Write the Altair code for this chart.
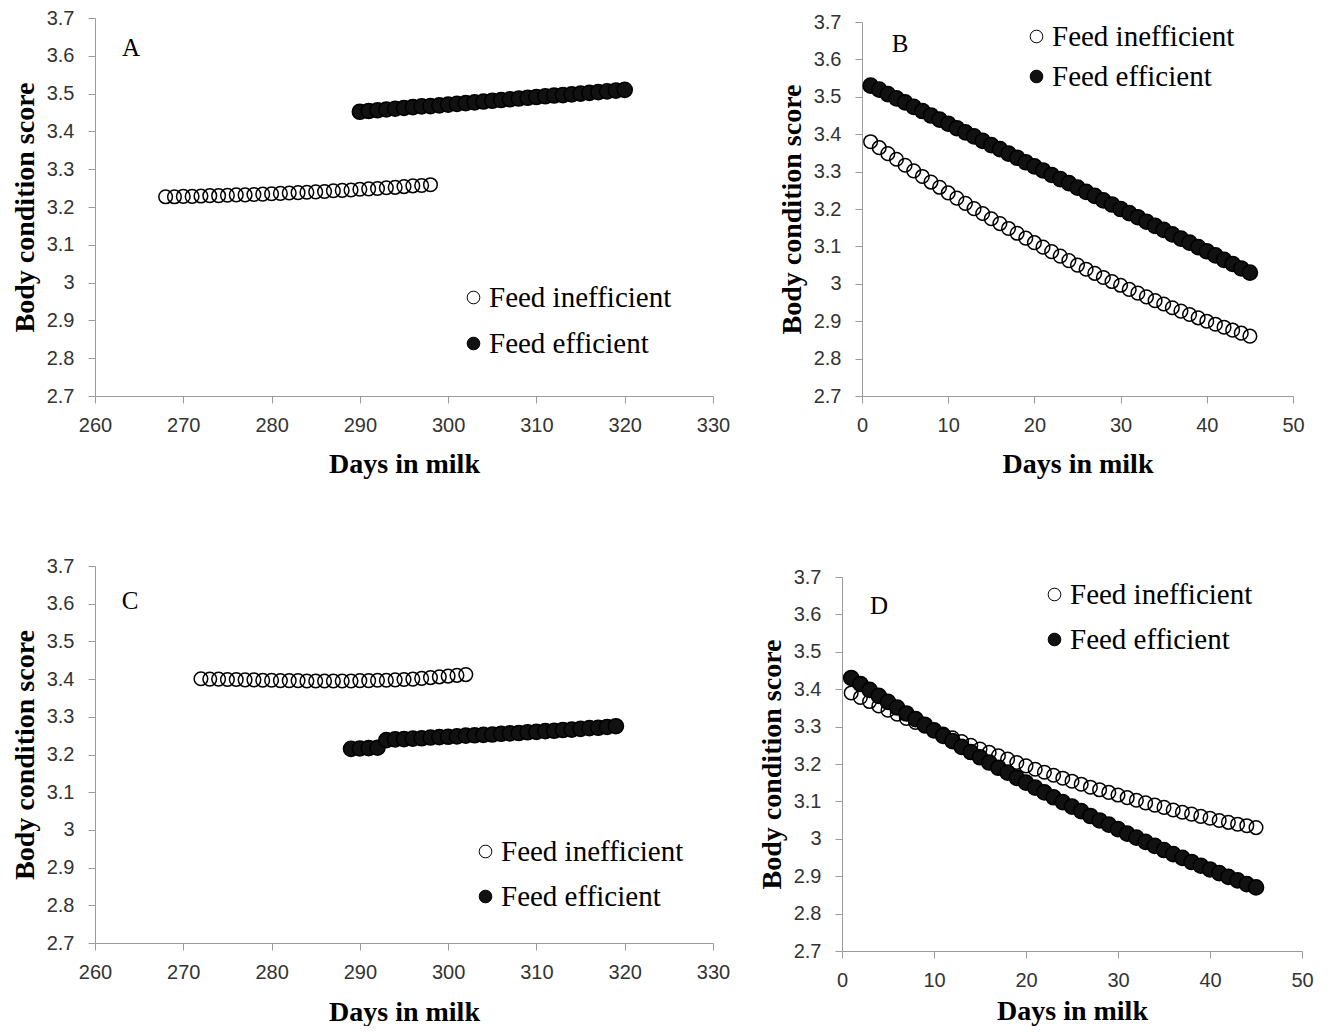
import altair as alt
import pandas as pd

# ---------------- data ----------------
GROUPS = ["Feed inefficient", "Feed efficient"]

# Panel A
a_days_ineff = list(range(268, 299))
a_bcs_ineff = [3.227, 3.227, 3.228, 3.228, 3.229, 3.230, 3.230, 3.231, 3.232, 3.232,
               3.233, 3.234, 3.235, 3.236, 3.237, 3.238, 3.239, 3.240, 3.241, 3.243,
               3.244, 3.245, 3.247, 3.248, 3.249, 3.251, 3.252, 3.254, 3.256, 3.257, 3.259]
a_days_eff = list(range(290, 321))
a_bcs_eff = [3.452, 3.454, 3.456, 3.458, 3.460, 3.462, 3.464, 3.466, 3.467, 3.469,
             3.471, 3.473, 3.475, 3.477, 3.479, 3.481, 3.483, 3.485, 3.487, 3.489,
             3.491, 3.493, 3.495, 3.496, 3.498, 3.500, 3.502, 3.504, 3.506, 3.508, 3.510]

# Panel B
b_days_ineff = list(range(1, 46))
b_bcs_ineff = [3.380, 3.364, 3.348, 3.333, 3.317, 3.302, 3.287, 3.272, 3.258, 3.243,
               3.229, 3.215, 3.201, 3.188, 3.174, 3.161, 3.148, 3.135, 3.122, 3.110,
               3.098, 3.086, 3.074, 3.062, 3.050, 3.039, 3.028, 3.017, 3.006, 2.996,
               2.985, 2.975, 2.965, 2.955, 2.946, 2.936, 2.927, 2.918, 2.909, 2.900,
               2.892, 2.884, 2.876, 2.868, 2.860]
b_days_eff = list(range(1, 46))
b_bcs_eff = [3.530, 3.519, 3.507, 3.496, 3.485, 3.473, 3.462, 3.450, 3.439, 3.428,
             3.416, 3.405, 3.394, 3.382, 3.371, 3.360, 3.348, 3.337, 3.325, 3.314,
             3.303, 3.291, 3.280, 3.269, 3.257, 3.246, 3.235, 3.223, 3.212, 3.200,
             3.189, 3.178, 3.166, 3.155, 3.144, 3.132, 3.121, 3.110, 3.098, 3.087,
             3.076, 3.064, 3.053, 3.041, 3.030]

# Panel C
c_days_ineff = list(range(272, 303))
c_bcs_ineff = [3.401, 3.400, 3.400, 3.399, 3.399, 3.398, 3.398, 3.397, 3.397, 3.396,
               3.396, 3.396, 3.395, 3.395, 3.395, 3.395, 3.395, 3.395, 3.396, 3.396,
               3.397, 3.397, 3.398, 3.399, 3.400, 3.402, 3.404, 3.406, 3.408, 3.410, 3.412]
c_days_eff = list(range(289, 320))
c_bcs_eff = [3.215, 3.216, 3.217, 3.218, 3.238, 3.240, 3.241, 3.242, 3.243, 3.245,
             3.246, 3.247, 3.248, 3.250, 3.251, 3.252, 3.253, 3.255, 3.256, 3.257,
             3.259, 3.260, 3.262, 3.263, 3.265, 3.266, 3.268, 3.270, 3.271, 3.273, 3.275]

# Panel D
d_days_ineff = list(range(1, 46))
d_bcs_ineff = [3.390, 3.378, 3.367, 3.355, 3.344, 3.333, 3.322, 3.311, 3.301, 3.290,
               3.280, 3.270, 3.260, 3.250, 3.240, 3.231, 3.222, 3.213, 3.204, 3.195,
               3.186, 3.178, 3.170, 3.162, 3.154, 3.146, 3.138, 3.131, 3.124, 3.117,
               3.110, 3.103, 3.096, 3.090, 3.084, 3.077, 3.071, 3.066, 3.060, 3.055,
               3.049, 3.044, 3.039, 3.035, 3.030]
d_days_eff = list(range(1, 46))
d_bcs_eff = [3.430, 3.414, 3.398, 3.382, 3.366, 3.351, 3.335, 3.320, 3.305, 3.290,
             3.275, 3.261, 3.246, 3.232, 3.218, 3.204, 3.190, 3.177, 3.163, 3.150,
             3.137, 3.124, 3.111, 3.098, 3.086, 3.074, 3.061, 3.049, 3.038, 3.026,
             3.014, 3.003, 2.992, 2.981, 2.970, 2.959, 2.949, 2.938, 2.928, 2.918,
             2.908, 2.898, 2.889, 2.879, 2.870]

late_ticks = [260, 270, 280, 290, 300, 310, 320, 330]
early_ticks = [0, 10, 20, 30, 40, 50]
y_ticks = [2.7, 2.8, 2.9, 3.0, 3.1, 3.2, 3.3, 3.4, 3.5, 3.6, 3.7]

SERIF = "Liberation Serif"
SANS = "Liberation Sans Narrow, Arial Narrow, Liberation Sans, sans-serif"


def frame(di, vi, de, ve):
    rows = [{"day": d, "bcs": v, "group": GROUPS[0]} for d, v in zip(di, vi)]
    rows += [{"day": d, "bcs": v, "group": GROUPS[1]} for d, v in zip(de, ve)]
    return pd.DataFrame(rows)


def panel(df, xdom, xticks, width, height, xrange, yrange, yoffset, xtitlepad,
          lx, ly, rowpad, letter, letx, lety):
    if xrange is not None:
        xscale = alt.Scale(domain=xdom, nice=False, zero=False, range=xrange)
    else:
        xscale = alt.Scale(domain=xdom, nice=False, zero=False)
    if yrange is not None:
        yscale = alt.Scale(domain=[2.7, 3.7], nice=False, zero=False, range=yrange)
    else:
        yscale = alt.Scale(domain=[2.7, 3.7], nice=False, zero=False)

    enc = dict(
        x=alt.X("day:Q", scale=xscale,
                axis=alt.Axis(values=xticks, title="Days in milk",
                              titlePadding=xtitlepad, labelFlush=False)),
        y=alt.Y("bcs:Q", scale=yscale,
                axis=alt.Axis(values=y_ticks, title="Body condition score",
                              offset=yoffset, labelFlush=False,
                              labelExpr="format(datum.value, '.1~f')")),
        fill=alt.Fill("group:N",
                      scale=alt.Scale(domain=GROUPS, range=["transparent", "#111111"]),
                      legend=alt.Legend(title=None, orient="none", legendX=lx, legendY=ly,
                                        labelFont=SERIF, labelFontSize=29, labelColor="black",
                                        labelLimit=0,
                                        symbolType="circle", symbolSize=160,
                                        symbolStrokeColor="black", symbolStrokeWidth=1,
                                        symbolOpacity=1, rowPadding=rowpad,
                                        labelOffset=1, padding=0)),
    )

    base = alt.Chart(df)
    open_pts = base.transform_filter(alt.datum.group == GROUPS[0]).mark_point(
        shape="circle", filled=True, stroke="black", strokeWidth=1.5, opacity=1, size=185
    ).encode(**enc)
    fill_pts = base.transform_filter(alt.datum.group == GROUPS[1]).mark_point(
        shape="circle", filled=True, stroke="black", strokeWidth=1.5, opacity=1, size=230
    ).encode(**enc)

    lab = alt.Chart(pd.DataFrame({"t": [letter]})).mark_text(
        font=SERIF, fontSize=25, color="black", align="center", baseline="middle"
    ).encode(x=alt.value(letx), y=alt.value(lety), text="t:N")

    return alt.layer(open_pts, fill_pts, lab).properties(width=width, height=height)


pA = panel(frame(a_days_ineff, a_bcs_ineff, a_days_eff, a_bcs_eff),
           [260, 330], late_ticks, 618, 378, None, None, 0, 15,
           364, 265, 16, "A", 36, 30)
pB = panel(frame(b_days_ineff, b_bcs_ineff, b_days_eff, b_bcs_eff),
           [0, 50], early_ticks, 451, 378, [20, 451], [378, 4], -20, 15,
           180, 4, 10, "B", 58, 26)
pC = panel(frame(c_days_ineff, c_bcs_ineff, c_days_eff, c_bcs_eff),
           [260, 330], late_ticks, 618, 377, None, None, 0, 16,
           376, 271, 15, "C", 35, 35)
pD = panel(frame(d_days_ineff, d_bcs_ineff, d_days_eff, d_bcs_eff),
           [0, 50], early_ticks, 460, 385, None, [385, 11], 0, 7,
           198, 14, 15, "D", 37, 40)

chart = alt.concat(
    pA, pB, pC, pD, columns=2,
    spacing={"row": 170, "column": 129}, bounds="flush", align="each"
).resolve_scale(
    fill="independent", x="independent", y="independent"
).resolve_legend(
    fill="independent"
).properties(
    padding={"left": 3, "top": 0, "right": 0, "bottom": 0}, background="white"
).configure_view(
    stroke=None
).configure_axis(
    grid=False,
    domainColor="#9a9a9a", tickColor="#9a9a9a", tickSize=7,
    labelFont=SANS, labelFontSize=20, labelColor="#333333",
    titleFont=SERIF, titleFontSize=28, titleFontWeight="bold", titleColor="black",
).configure_axisX(
    labelPadding=12
).configure_axisY(
    labelPadding=14, titlePadding=7
).configure_legend(
    labelFont=SERIF
)

chart.save("out.html", embed_options={"renderer": "svg", "actions": False})
